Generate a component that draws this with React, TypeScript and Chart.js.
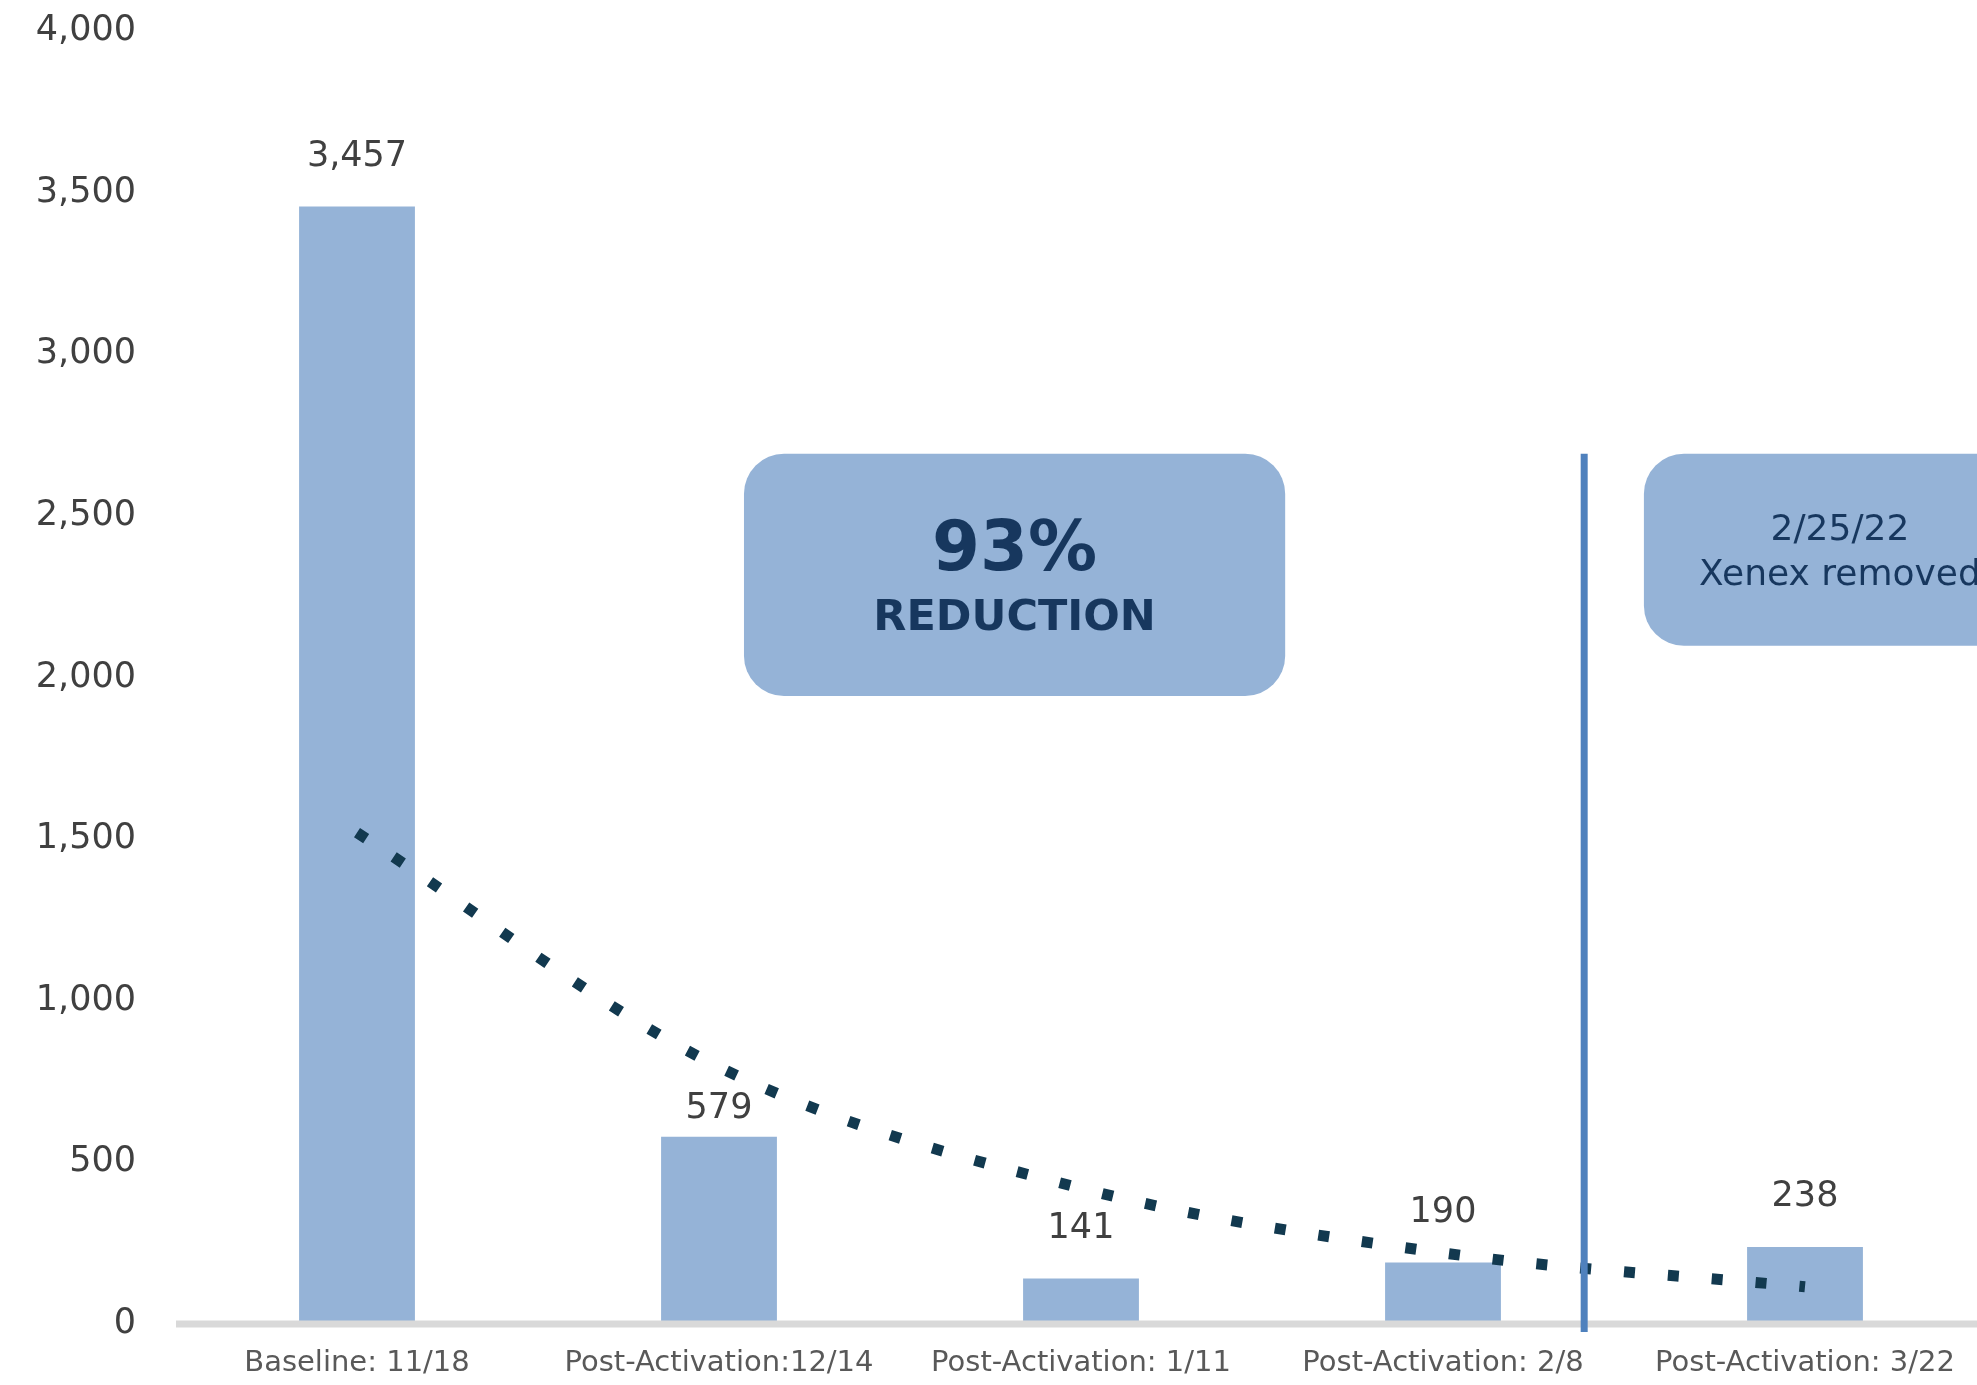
import { useEffect, useRef } from 'react';
import { Chart, registerables } from 'chart.js';

Chart.register(...registerables);

// ---- data ----
const categories = [
  'Baseline: 11/18',
  'Post-Activation:12/14',
  'Post-Activation: 1/11',
  'Post-Activation: 2/8',
  'Post-Activation: 3/22',
];
const counts = [3457, 579, 141, 190, 238];
// trendline values at each category
const trendValues = [1520, 795, 420, 220, 115];
const yMin = 0;
const yMax = 4000;
const yStep = 500;
const reductionText = ['93%', 'REDUCTION'];
const removalText = ['2/25/22', 'Xenex removed'];
// position (in category units) of the 2/25/22 removal marker
const removalAt = 3.39;

// ---- styles ----
const FONT = '"DejaVu Sans", Verdana, sans-serif';
const BAR_COLOR = '#95b3d7';
const NAVY = '#17375e';
const labelLift = [50, 28, 50, 50, 50];

const overlayPlugin = {
  id: 'overlay',
  afterDatasetsDraw(chart: any) {
    const { ctx, chartArea } = chart;
    const x = chart.scales.x;
    const y = chart.scales.y;
    ctx.save();

    // baseline axis line
    const y0 = y.getPixelForValue(0);
    ctx.fillStyle = '#d9d9d9';
    ctx.fillRect(chartArea.left, y0 - 3.5, chartArea.right - chartArea.left, 7);

    // data labels
    const meta = chart.getDatasetMeta(1);
    ctx.font = `35px ${FONT}`;
    ctx.fillStyle = '#404040';
    ctx.textAlign = 'center';
    ctx.textBaseline = 'middle';
    meta.data.forEach((bar: any, i: number) => {
      ctx.fillText(counts[i].toLocaleString('en-US'), bar.x, bar.y - labelLift[i]);
    });

    // box helper
    const box = (x1: number, x2: number, v1: number, v2: number) => {
      const px1 = x.getPixelForValue(x1);
      const px2 = x.getPixelForValue(x2);
      const py1 = y.getPixelForValue(v1);
      const py2 = y.getPixelForValue(v2);
      ctx.beginPath();
      ctx.fillStyle = BAR_COLOR;
      (ctx as any).roundRect(px1, py1, px2 - px1, py2 - py1, 40);
      ctx.fill();
      return { l: px1, r: px2, t: py1, b: py2 };
    };

    // 93% reduction box
    const b1 = box(1.069, 2.564, 2692, 1943);
    const c1 = (b1.l + b1.r) / 2;
    const h1 = b1.b - b1.t;
    ctx.fillStyle = NAVY;
    ctx.font = `bold 69px ${FONT}`;
    ctx.fillText(reductionText[0], c1, b1.t + h1 * 0.405);
    ctx.font = `bold 43px ${FONT}`;
    ctx.fillText(reductionText[1], c1, b1.t + h1 * 0.68);

    // removal box
    const b2 = box(3.555, 4.638, 2692, 2098);
    const c2 = (b2.l + b2.r) / 2;
    const h2 = b2.b - b2.t;
    ctx.fillStyle = NAVY;
    ctx.font = `36px ${FONT}`;
    ctx.fillText(removalText[0], c2, b2.t + h2 * 0.4);
    ctx.fillText(removalText[1], c2, b2.t + h2 * 0.635);

    // vertical removal marker
    const vx = x.getPixelForValue(removalAt);
    ctx.strokeStyle = '#4f81bd';
    ctx.lineWidth = 7;
    ctx.beginPath();
    ctx.moveTo(vx, y.getPixelForValue(2692));
    ctx.lineTo(vx, y0 + 8);
    ctx.stroke();

    ctx.restore();
  },
};

export default function App() {
  const ref = useRef<HTMLCanvasElement>(null);

  useEffect(() => {
    if (!ref.current) return;
    const chart = new Chart(ref.current, {
      type: 'bar',
      data: {
        labels: categories,
        datasets: [
          {
            type: 'line',
            label: 'Trend',
            data: trendValues,
            borderColor: '#12394f',
            borderWidth: 11,
            borderDash: [11, 33],
            borderCapStyle: 'butt',
            pointRadius: 0,
            cubicInterpolationMode: 'monotone',
            fill: false,
            order: 0,
          } as any,
          {
            type: 'bar',
            label: 'Count',
            data: counts,
            backgroundColor: BAR_COLOR,
            categoryPercentage: 1,
            barPercentage: 0.32,
            order: 1,
          },
        ],
      },
      options: {
        responsive: false,
        animation: false,
        devicePixelRatio: 1,
        layout: { padding: { top: 31, right: 14, bottom: 0, left: 0 } },
        plugins: {
          legend: { display: false },
          tooltip: { enabled: false },
          title: { display: false },
        },
        scales: {
          x: {
            grid: { display: false, drawTicks: false },
            border: { display: false },
            ticks: {
              autoSkip: false,
              maxRotation: 0,
              padding: 22,
              color: '#595959',
              font: { family: FONT, size: 29 },
            },
            afterFit: (s: any) => {
              s.height = 61;
              s.paddingLeft = 0;
              s.paddingRight = 0;
            },
          },
          y: {
            min: yMin,
            max: yMax,
            grid: { display: false, drawTicks: false },
            border: { display: false },
            ticks: {
              stepSize: yStep,
              padding: 40,
              color: '#404040',
              font: { family: FONT, size: 35 },
              callback: (v: any) => Number(v).toLocaleString('en-US'),
            },
            afterFit: (s: any) => {
              s.width = 176;
              s.paddingTop = 0;
              s.paddingBottom = 0;
            },
          },
        },
      },
      plugins: [overlayPlugin],
    });
    return () => chart.destroy();
  }, []);

  return (
    <div
      style={{
        position: 'fixed',
        left: 0,
        top: 0,
        width: '100vw',
        height: '100vh',
        overflow: 'hidden',
        background: '#ffffff',
      }}
    >
      <canvas ref={ref} width={2000} height={1385} style={{ display: 'block' }} />
    </div>
  );
}
